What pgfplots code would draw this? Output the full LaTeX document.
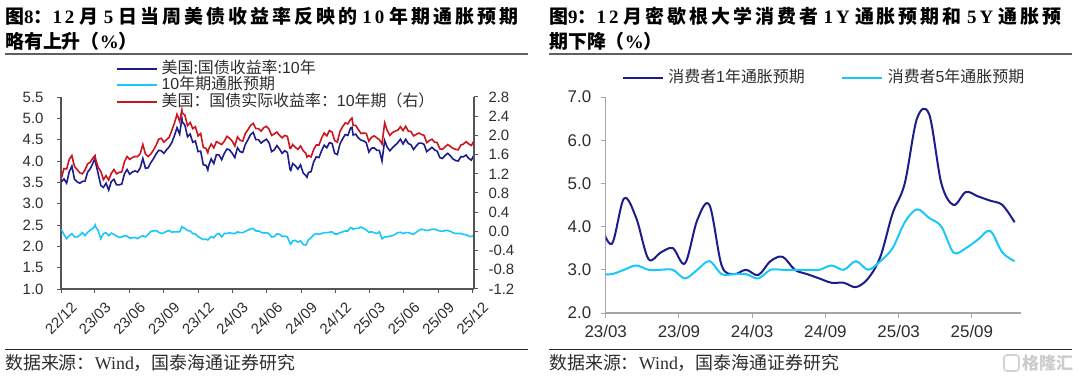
\documentclass[border=0pt]{standalone}
\usepackage{fontspec}
\usepackage{pgfplots}
\pgfplotsset{compat=1.18}
\usepackage{pgfplotstable}
\setmainfont{Liberation Sans}
\newfontfamily\cjk{Noto Sans CJK SC}
\newfontfamily\serif{Liberation Serif}
\newfontfamily\cjkT[LetterSpace=16]{Noto Sans CJK SC}
\newfontfamily\serT[LetterSpace=16]{Liberation Serif}
\definecolor{navyA}{RGB}{28,28,140}
\definecolor{cyanA}{RGB}{25,200,250}
\definecolor{redA}{RGB}{205,20,30}
\definecolor{axgray}{RGB}{85,85,85}
\definecolor{txtgray}{RGB}{45,45,45}
\definecolor{lightax}{RGB}{165,165,165}
\newcommand\C[1]{{\cjkT\bfseries #1}}
\newcommand\N[1]{{\serT\bfseries #1}}
\newcommand\Cn[1]{{\cjk\bfseries #1}}
\newcommand\Nn[1]{{\serif\bfseries #1}}

\pgfplotstableread{
d n b r
1 3.51 2.40 1.11
8 3.58 2.27 1.31
15 3.48 2.18 1.30
22 3.75 2.25 1.50
29 3.88 2.30 1.58
36 3.57 2.22 1.35
43 3.51 2.22 1.29
50 3.48 2.26 1.22
57 3.52 2.32 1.20
64 3.53 2.25 1.28
71 3.74 2.33 1.41
78 3.82 2.38 1.44
85 3.95 2.42 1.53
91 4.08 2.50 1.58
92 3.97 2.46 1.51
99 3.70 2.37 1.33
106 3.43 2.18 1.25
113 3.38 2.30 1.08
120 3.48 2.32 1.16
127 3.32 2.25 1.07
134 3.52 2.31 1.21
141 3.57 2.28 1.29
148 3.44 2.24 1.20
155 3.44 2.21 1.23
162 3.46 2.22 1.24
169 3.70 2.25 1.45
176 3.80 2.24 1.56
183 3.69 2.19 1.50
190 3.74 2.20 1.54
197 3.77 2.21 1.56
204 3.74 2.18 1.56
211 3.84 2.22 1.62
218 4.06 2.25 1.81
225 3.83 2.22 1.61
232 3.84 2.28 1.56
239 3.96 2.35 1.61
246 4.05 2.36 1.69
253 4.16 2.37 1.79
260 4.25 2.33 1.92
267 4.24 2.30 1.94
274 4.18 2.32 1.86
281 4.26 2.35 1.91
288 4.33 2.37 1.96
295 4.43 2.33 2.10
302 4.59 2.34 2.25
309 4.78 2.34 2.44
316 4.63 2.34 2.29
322 4.99 2.46 2.53
323 4.92 2.45 2.47
330 4.84 2.42 2.42
337 4.57 2.37 2.20
344 4.63 2.36 2.27
351 4.44 2.30 2.14
358 4.47 2.29 2.18
365 4.22 2.23 1.99
372 4.23 2.19 2.04
379 3.91 2.16 1.75
386 3.90 2.17 1.73
391 3.79 2.15 1.64
393 3.88 2.17 1.71
400 4.05 2.23 1.82
407 3.94 2.20 1.74
414 4.15 2.28 1.87
421 4.14 2.30 1.84
428 4.03 2.22 1.81
435 4.18 2.30 1.88
442 4.28 2.30 1.98
449 4.26 2.32 1.94
456 4.18 2.30 1.88
463 4.08 2.30 1.78
470 4.31 2.34 1.97
477 4.22 2.32 1.90
484 4.20 2.32 1.88
491 4.39 2.35 2.04
498 4.50 2.38 2.12
505 4.62 2.41 2.21
512 4.67 2.42 2.25
519 4.50 2.36 2.14
526 4.50 2.36 2.14
533 4.42 2.33 2.09
540 4.47 2.31 2.16
547 4.51 2.32 2.19
554 4.43 2.30 2.13
561 4.22 2.22 2.00
568 4.26 2.23 2.03
575 4.36 2.29 2.07
582 4.28 2.28 2.00
589 4.18 2.23 1.95
596 4.24 2.24 2.00
603 4.20 2.22 1.98
610 3.80 2.07 1.73
612 3.78 2.05 1.73
617 3.94 2.13 1.81
624 3.89 2.14 1.75
631 3.81 2.10 1.71
638 3.91 2.13 1.78
645 3.72 2.04 1.68
652 3.66 2.03 1.63
655 3.62 2.07 1.55
659 3.73 2.15 1.58
666 3.75 2.20 1.55
673 3.98 2.27 1.71
680 4.10 2.30 1.80
687 4.08 2.28 1.80
694 4.24 2.30 1.94
701 4.37 2.32 2.05
708 4.31 2.32 1.99
715 4.43 2.33 2.10
722 4.41 2.34 2.07
729 4.18 2.29 1.89
736 4.15 2.29 1.86
743 4.40 2.32 2.08
750 4.52 2.34 2.18
757 4.62 2.36 2.26
764 4.60 2.36 2.24
771 4.77 2.44 2.33
775 4.79 2.43 2.36
778 4.61 2.40 2.21
785 4.63 2.42 2.21
792 4.54 2.42 2.12
799 4.49 2.45 2.04
806 4.47 2.42 2.05
813 4.43 2.39 2.04
820 4.21 2.33 1.88
827 4.30 2.34 1.96
834 4.31 2.32 1.99
841 4.25 2.30 1.95
848 4.25 2.34 1.91
855 4.00 2.18 1.82
862 4.48 2.22 2.26
869 4.32 2.22 2.10
876 4.24 2.24 2.00
883 4.31 2.25 2.06
890 4.37 2.28 2.09
897 4.43 2.32 2.11
904 4.51 2.33 2.18
911 4.40 2.30 2.10
918 4.51 2.32 2.19
925 4.41 2.32 2.09
932 4.38 2.30 2.08
939 4.27 2.28 1.99
946 4.35 2.33 2.02
953 4.42 2.37 2.05
960 4.42 2.40 2.02
967 4.39 2.39 2.00
974 4.22 2.37 1.85
981 4.27 2.38 1.89
988 4.32 2.40 1.92
995 4.26 2.40 1.86
1002 4.23 2.38 1.85
1009 4.08 2.36 1.72
1016 4.06 2.35 1.71
1023 4.13 2.37 1.76
1030 4.18 2.37 1.81
1037 4.12 2.35 1.77
1044 4.05 2.32 1.73
1051 4.01 2.30 1.71
1058 4.00 2.30 1.70
1065 4.10 2.30 1.80
1072 4.10 2.28 1.82
1079 4.14 2.27 1.87
1086 4.06 2.24 1.82
1093 4.02 2.23 1.79
1100 4.14 2.25 1.89
}\tblL

\pgfplotsset{
  common/.style={
    scale only axis, anchor=south west,
    /pgf/number format/assume math mode=true,
    tick align=outside,
    every tick label/.append style={text=txtgray},
    legend image code/.code={\draw[##1] (0bp,0bp) -- (40bp,0bp);},
  },
}

\begin{document}
\begin{tikzpicture}
\path[use as bounding box] (0bp,0bp) rectangle (1080bp,378bp);

% ---------- titles ----------
\node[anchor=west, inner sep=0pt] at (5bp,362bp) {\fontsize{19}{19}\selectfont
  \C{图}\N{8}\C{：}\N{12} \C{月} \N{5} \C{日当周美债收益率反映的} \N{10} \C{年期通胀预期}};
\node[anchor=west, inner sep=0pt] at (5bp,337bp) {\fontsize{19}{19}\selectfont
  \Cn{略有上升（}\Nn{\%}\Cn{）}};
\draw[line width=1.5bp, gray!75!black] (5bp,324bp) -- (528bp,324bp);

\node[anchor=west, inner sep=0pt] at (549bp,362bp) {\fontsize{19}{19}\selectfont
  \C{图}\N{9}\C{：}\N{12} \C{月密歇根大学消费者} \N{1Y} \C{通胀预期和} \N{5Y} \C{通胀预}};
\node[anchor=west, inner sep=0pt] at (549bp,337bp) {\fontsize{19}{19}\selectfont
  \Cn{期下降（}\Nn{\%}\Cn{）}};
\draw[line width=1.5bp, gray!75!black] (549bp,324bp) -- (1072bp,324bp);

% ---------- footers ----------
\draw[line width=1bp, black!85] (5bp,28bp) -- (528bp,28bp);
\draw[line width=1bp, black!85] (549bp,28bp) -- (1072bp,28bp);
\node[anchor=west, inner sep=0pt, text=txtgray] at (5bp,15.5bp) {\fontsize{18}{18}\selectfont
  {\cjk 数据来源：}{\serif Wind}{\cjk ，国泰海通证券研究}};
\node[anchor=west, inner sep=0pt, text=txtgray] at (549bp,15.5bp) {\fontsize{18}{18}\selectfont
  {\cjk 数据来源：}{\serif Wind}{\cjk ，国泰海通证券研究}};
\draw[gray!35, line width=1.6bp, rounded corners=3bp] (1004bp,7bp) rectangle (1019bp,23bp);
\node[anchor=west, inner sep=0pt, text=gray!40] at (1022bp,15bp) {\fontsize{17}{17}\selectfont{\cjk\bfseries 格隆汇}};

% ---------- left panel: left axis ----------
\begin{axis}[common,
  at={(61bp,89bp)}, width=413bp, height=192bp,
  xmin=0, xmax=1100, ymin=1, ymax=5.5,
  axis x line*=bottom, axis y line*=left,
  axis line style={axgray, line width=1.3bp},
  tick style={axgray, line width=1bp}, major tick length=4bp,
  xtick={0,90,182,274,365,456,548,640,731,821,913,1005,1096},
  xticklabels={22/12,23/03,23/06,23/09,23/12,24/03,24/06,24/09,24/12,25/03,25/06,25/09,25/12},
  xticklabel style={rotate=45, anchor=north east, inner sep=1bp, font=\fontsize{15}{15}\selectfont, xshift=2bp, yshift=-11bp},
  ytick={1,1.5,2,2.5,3,3.5,4,4.5,5,5.5},
  yticklabel style={/pgf/number format/.cd, fixed, fixed zerofill, precision=1, /tikz/.cd, font=\fontsize{15}{15}\selectfont, xshift=-10bp},
]
\addplot[navyA, line width=1.6bp] table[x=d, y=n] {\tblL};
\addplot[cyanA, line width=1.6bp] table[x=d, y=b] {\tblL};
\end{axis}

% ---------- left panel: right axis ----------
\begin{axis}[common,
  at={(61bp,89bp)}, width=413bp, height=192bp,
  xmin=0, xmax=1100, ymin=-1.2, ymax=2.8,
  axis x line=none, axis y line*=right,
  axis line style={axgray, line width=1.3bp},
  tick style={axgray, line width=1bp}, major tick length=4bp,
  ytick={-1.2,-0.8,-0.4,0,0.4,0.8,1.2,1.6,2.0,2.4,2.8},
  yticklabel style={/pgf/number format/.cd, fixed, fixed zerofill, precision=1, /tikz/.cd, font=\fontsize{15}{15}\selectfont, xshift=7bp},
  legend style={at={(axis description cs:0.133,1.19)}, anchor=north west, draw=none, fill=none,
    inner sep=0pt, font=\fontsize{16}{16}\selectfont, text=txtgray, row sep=0pt,
    nodes={inner sep=0.5bp, text height=12bp, text depth=3.5bp},
    /tikz/every odd column/.append style={column sep=3bp}},
  legend cell align=left,
]
\addlegendimage{navyA, line width=2bp}
\addlegendentry{{\cjk 美国:国债收益率:}10{\cjk 年}}
\addlegendimage{cyanA, line width=2bp}
\addlegendentry{10{\cjk 年期通胀预期}}
\addplot[redA, line width=1.6bp, forget plot] table[x=d, y=r] {\tblL};
\addlegendimage{redA, line width=2bp}
\addlegendentry{{\cjk 美国：国债实际收益率：}10{\cjk 年期（右）}}
\end{axis}

% ---------- right panel ----------
\begin{axis}[common,
  at={(605.7bp,65bp)}, width=415bp, height=216bp,
  xmin=0, xmax=34, ymin=2, ymax=7,
  axis x line*=bottom, axis y line*=left,
  axis line style={lightax, line width=1.1bp},
  tick style={lightax, line width=1bp}, major tick length=5bp,
  xtick={0,6,12,18,24,30},
  xticklabels={23/03,23/09,24/03,24/09,25/03,25/09},
  xticklabel style={font=\fontsize{17}{17}\selectfont, yshift=-4bp},
  ytick={2,3,4,5,6,7},
  yticklabel style={/pgf/number format/.cd, fixed, fixed zerofill, precision=1, /tikz/.cd, font=\fontsize{17}{17}\selectfont, xshift=-6bp},
  legend columns=2,
  legend style={at={(axis description cs:0.0386,1.125)}, anchor=north west, draw=none, fill=none,
    inner sep=0pt, font=\fontsize{16}{16}\selectfont, text=txtgray,
    nodes={inner sep=0.5bp, text height=12bp, text depth=3.5bp},
    /tikz/every odd column/.append style={column sep=4bp},
    /tikz/every even column/.append style={column sep=36bp}},
]
\addplot[navyA, line width=2bp, smooth, tension=0.55] coordinates {
(-0.5,4.1) (0.5,3.6) (1.5,4.65) (2.5,4.2) (3.5,3.25) (4.5,3.4) (5.5,3.5) (6.5,3.15)
(7.5,4.15) (8.5,4.5) (9.5,3.1) (10.5,2.9) (11.5,3.0) (12.5,2.88) (13.5,3.2) (14.5,3.3)
(15.5,3.0) (16.5,2.9) (17.5,2.8) (18.5,2.7) (19.5,2.7) (20.5,2.6) (21.5,2.8) (22.5,3.3)
(23.5,4.3) (24.5,5.0) (25.5,6.5) (26.5,6.6) (27.5,5.0) (28.5,4.5) (29.5,4.8) (30.5,4.7)
(31.5,4.6) (32.5,4.5) (33.5,4.1)};
\addlegendentry{{\cjk 消费者}1{\cjk 年通胀预期}}
\addplot[cyanA, line width=2bp, smooth, tension=0.55] coordinates {
(-0.5,2.9) (0.5,2.9) (1.5,3.0) (2.5,3.1) (3.5,3.0) (4.5,3.0) (5.5,3.0) (6.5,2.8)
(7.5,3.0) (8.5,3.2) (9.5,2.9) (10.5,2.9) (11.5,2.9) (12.5,2.8) (13.5,3.0) (14.5,3.0)
(15.5,3.0) (16.5,3.0) (17.5,3.0) (18.5,3.1) (19.5,3.0) (20.5,3.2) (21.5,3.0) (22.5,3.2)
(23.5,3.5) (24.5,4.1) (25.5,4.4) (26.5,4.2) (27.5,4.0) (28.5,3.4) (29.5,3.5) (30.5,3.7)
(31.5,3.9) (32.5,3.4) (33.5,3.2)};
\addlegendentry{{\cjk 消费者}5{\cjk 年通胀预期}}
\end{axis}
\end{tikzpicture}
\end{document}
